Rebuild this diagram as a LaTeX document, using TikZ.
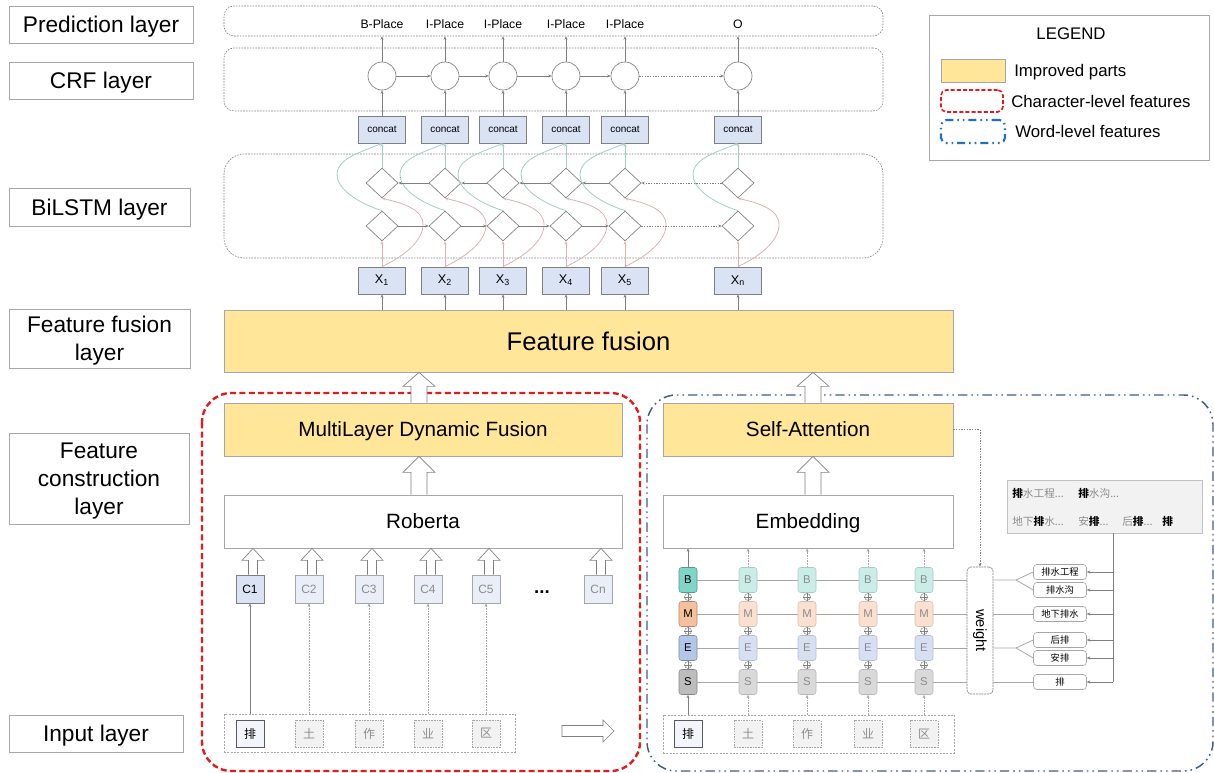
\documentclass[tikz,border=0pt]{standalone}
\usepackage{fontspec}
\setmainfont{Liberation Sans}
\newfontfamily\cjk{Noto Sans CJK SC}
\usetikzlibrary{shapes.geometric,arrows.meta,calc,backgrounds}

\definecolor{lgray}{HTML}{A6A6A6}
\definecolor{dgray}{HTML}{7F7F7F}
\definecolor{boxblue}{HTML}{DAE3F3}
\definecolor{boxblueL}{HTML}{E9EEF8}
\definecolor{yelf}{HTML}{FFE699}
\definecolor{tealL}{HTML}{A3CDC2}
\definecolor{pinkL}{HTML}{DDB0B2}
\definecolor{redc}{HTML}{E3191C}
\definecolor{navyc}{HTML}{3F5B95}
\definecolor{lbluec}{HTML}{1F70C1}
\definecolor{cB1}{HTML}{7FD6C8}
\definecolor{cB2}{HTML}{C9EEE8}
\definecolor{cM1}{HTML}{F4C19C}
\definecolor{cM2}{HTML}{FBE0CF}
\definecolor{cE1}{HTML}{B4C6E7}
\definecolor{cE2}{HTML}{D7E0F2}
\definecolor{cS1}{HTML}{BDBDBD}
\definecolor{cS2}{HTML}{D9D9D9}
\definecolor{gtext}{HTML}{8C8C8C}
\definecolor{gboxf}{HTML}{F2F2F2}

\newcommand\bx[7]{\node[#6, minimum width={(#4-#2)*0.75pt}, minimum height={(#5-#3)*0.75pt}, inner sep=0pt] (#1) at ({(#2+#4)/2},{(#3+#5)/2}) {#7};}
\newcommand\hup[6]{\filldraw[hol] let \p1=($(#1)+(#3,0)$), \p2=(#2) in (\x1-#4*0.75pt,\y1) -- (\x1-#4*0.75pt,\y2-#6*0.75pt) -- (\x1-#5*0.75pt,\y2-#6*0.75pt) -- (\x1,\y2) -- (\x1+#5*0.75pt,\y2-#6*0.75pt) -- (\x1+#4*0.75pt,\y2-#6*0.75pt) -- (\x1+#4*0.75pt,\y1);}
\newcommand\bpai{{\bfseries\color{black}排}}

\begin{document}
\begin{tikzpicture}[x=0.75pt,y=-0.75pt,
 lay/.style={draw=lgray,line width=0.6pt,font=\fontsize{17}{21}\selectfont,align=center,text depth=0pt},
 region/.style={draw=dgray,line width=0.45pt,dash pattern=on 1.2pt off 0.9pt,rounded corners=7.5pt},
 tag/.style={font=\fontsize{9.2}{11}\selectfont,inner sep=0pt,text depth=0pt},
 bluebox/.style={draw=dgray,fill=boxblue,line width=0.55pt,inner sep=0pt,minimum width=35.25pt,minimum height=20.25pt},
 crfc/.style={circle,draw=dgray,fill=white,line width=0.5pt,minimum size=21pt,inner sep=0pt},
 dia/.style={diamond,draw=dgray,fill=white,line width=0.5pt,minimum width=24pt,minimum height=22.5pt,inner sep=0pt},
 arr/.style={draw=dgray,line width=0.45pt,-{Stealth[length=2.6pt,width=2.2pt]}},
 arrg/.style={arr,draw=tealL,line width=0.6pt},
 arrp/.style={arr,draw=pinkL,line width=0.6pt},
 dotarr/.style={arr,dash pattern=on 1pt off 1pt},
 lightarr/.style={arr,draw=lgray,dash pattern=on 1.2pt off 0.8pt},
 yel/.style={draw=lgray,fill=yelf,line width=0.6pt},
 wbox/.style={draw=lgray,fill=white,line width=0.6pt},
 dashbox/.style={draw=lgray,dash pattern=on 1.5pt off 1pt,line width=0.5pt},
 hol/.style={draw=dgray,fill=white,line width=0.5pt},
 mid/.style={font=\fontsize{15.5}{18}\selectfont,text depth=0pt},
 cbox/.style={draw=dgray,fill=boxblue,line width=0.55pt,inner sep=0pt,minimum size=21pt,font=\fontsize{9}{11}\selectfont},
 cboxL/.style={cbox,draw=lgray,fill=boxblueL,text=gtext},
 chr/.style={draw=black!65,fill=boxblueL!60,line width=0.6pt,inner sep=0pt,minimum width=21pt,minimum height=20.25pt,font=\cjk\fontsize{9}{11}\selectfont},
 chrL/.style={chr,draw=lgray,dash pattern=on 1.2pt off 0.8pt,fill=gboxf,text=gtext},
 cell/.style={rounded corners=2pt,minimum width=13.5pt,minimum height=18.75pt,inner sep=0pt,font=\fontsize{8.5}{10}\selectfont,line width=0.4pt},
 cellB1/.style={cell,fill=cB1,draw=cB1!70!black},
 cellB2/.style={cell,fill=cB2,draw=cB2!85!black,text=gtext},
 cellM1/.style={cell,fill=cM1,draw=cM1!70!black},
 cellM2/.style={cell,fill=cM2,draw=cM2!85!black,text=gtext},
 cellE1/.style={cell,fill=cE1,draw=cE1!70!black},
 cellE2/.style={cell,fill=cE2,draw=cE2!85!black,text=gtext},
 cellS1/.style={cell,fill=cS1,draw=cS1!70!black},
 cellS2/.style={cell,fill=cS2,draw=cS2!85!black,text=gtext},
 oplus/.style={circle,draw=dgray,fill=white,line width=0.35pt,minimum size=5.2pt,inner sep=0pt},
 rowline/.style={draw=lgray,line width=0.6pt},
 kw/.style={draw=lgray,rounded corners=2.5pt,fill=white,line width=0.45pt,minimum width=39.75pt,minimum height=11.25pt,inner sep=0pt,font=\cjk\fontsize{7}{8}\selectfont},
 gt/.style={text=gtext,font=\cjk\fontsize{8}{10}\selectfont,inner sep=0pt},
 legt/.style={font=\fontsize{12.6}{15}\selectfont,inner sep=0pt,text depth=0pt}
]
\useasboundingbox (0,0) rectangle (1214,773);

% ---------- left layer labels
\bx{lpred}{9}{6}{193}{43}{lay}{Prediction layer}
\bx{lcrf}{9}{62}{193}{99}{lay}{CRF layer}
\bx{lbil}{9}{188}{190}{226}{lay}{BiLSTM layer}
\bx{lff}{9}{309}{190}{368}{lay}{Feature fusion\\layer}
\bx{lfc}{9}{433}{189}{524}{lay}{Feature\\construction\\layer}
\bx{lin}{9}{715}{183}{752}{lay}{Input layer}

% ---------- regions
\bx{pred}{224}{6}{883}{36}{region}{}
\bx{crf}{224}{48}{883}{111}{region}{}
\bx{bil}{224}{154}{883}{258}{region,rounded corners=15pt}{}

% ---------- feature fusion
\bx{ff}{224}{310}{953}{372}{yel,font=\fontsize{19.2}{23}\selectfont}{Feature fusion}

% ---------- columns
\foreach \i/\c/\t in {1/382/B-Place,2/445/I-Place,3/503/I-Place,4/566/I-Place,5/625/I-Place,n/738/O}{
  \node[tag] (p\i) at (\c,24) {\t};
  \node[crfc] (crf\i) at (\c,76) {};
  \node[bluebox,font=\fontsize{7.5}{9}\selectfont,text depth=0pt] (cc\i) at (\c,129.5) {concat};
  \node[dia] (up\i) at (\c,183) {};
  \node[dia] (lo\i) at (\c,226) {};
  \node[bluebox,font=\fontsize{9.5}{11}\selectfont] (x\i) at (\c,280.5) {X\textsubscript{\i}};
}
\foreach \i in {1,2,3,4,5,n}{
  \draw[arr] (crf\i.north) -- (crf\i.north |- pred.south);
  \draw[arr] (cc\i.north) -- (crf\i.south);
  \draw[arrg] (up\i.north) -- (cc\i.south);
  \draw[arrp] (x\i.north) -- (lo\i.south);
  \draw[arr] (x\i.south |- ff.north) -- (x\i.south);
  \draw[arrg] (lo\i.north) .. controls ($(lo\i.north)+(-25,-8)$) and ($(lo\i.north)+(-45,-22)$) .. ($(lo\i.north)+(-45,-36)$) .. controls ($(lo\i.north)+(-45,-52)$) and ($(cc\i.south)+(-22,9)$) .. (cc\i.south);
  \draw[arrp] (x\i.north) .. controls ($(x\i.north)+(25,-12)$) and ($(x\i.north)+(41,-27)$) .. ($(x\i.north)+(41,-42)$) .. controls ($(x\i.north)+(41,-57)$) and ($(up\i.south)+(22,5)$) .. (up\i.south);
}
\foreach \a/\b in {1/2,2/3,3/4,4/5}{
  \draw[arr] (crf\a) -- (crf\b);
  \draw[arr] (up\b) -- (up\a);
  \draw[arr] (lo\a) -- (lo\b);
}
\draw[dotarr] (crf5) -- (crfn);
\draw[dotarr] (upn) -- (up5);
\draw[dotarr] (lo5) -- (lon);

% ---------- character-level branch
\draw[draw=redc,line width=1.8pt,dash pattern=on 4.5pt off 2.5pt,rounded corners=22pt] (202,393) rectangle (640,771);
\bx{mdf}{224}{403}{622}{456}{yel,mid}{MultiLayer Dynamic Fusion}
\bx{rob}{224}{495}{622}{548}{wbox,mid}{Roberta}
\hup{mdf.north}{mdf.north |- ff.south}{-4}{8}{16}{14}
\hup{rob.north}{rob.north |- mdf.south}{-4}{8}{16}{16}

\node[cbox] (ch1) at (250,589) {C1};
\foreach \i/\c in {2/309,3/369,4/428,5/486}{\node[cboxL] (ch\i) at (\c,589) {C\i};}
\node[cboxL] (chn) at (598,589) {Cn};
\node[font=\bfseries\fontsize{14}{16}\selectfont,inner sep=0pt,anchor=base] (dots) at (542,593) {...};
\foreach \i in {1,2,3,4,5,n}{\hup{ch\i.north}{ch\i.north |- rob.south}{3}{4.5}{11}{12}}

\bx{inp}{224}{714}{515}{752}{dashbox}{}
\node[chr] (w1) at (250,733.5) {排};
\node[chrL] (w2) at (309,733.5) {土};
\node[chrL] (w3) at (369,733.5) {作};
\node[chrL] (w4) at (428,733.5) {业};
\node[chrL] (w5) at (486,733.5) {区};
\draw[arr] (w1.north |- inp.north) -- (ch1.south);
\foreach \i in {2,3,4,5}{\draw[lightarr] (w\i.north |- inp.north) -- (ch\i.south);}
\filldraw[hol] (562,725.5) -- (603,725.5) -- (603,720) -- (614,731) -- (603,742) -- (603,736.5) -- (562,736.5) -- cycle;

% ---------- word-level branch
\draw[draw=navyc,line width=1.1pt,dash pattern=on 7pt off 3pt on 1.2pt off 3pt on 1.2pt off 3pt,rounded corners=22pt] (647,395) rectangle (1213,771);
\bx{sa}{663}{403}{953}{456}{yel,mid}{Self-Attention}
\bx{emb}{663}{495}{953}{548}{wbox,mid}{Embedding}
\hup{sa.north}{sa.north |- ff.south}{5}{8}{16}{14}
\hup{emb.north}{emb.north |- sa.south}{5}{8}{16}{16}

\foreach \i/\c/\s in {1/688/1,2/748/2,3/807/2,4/868/2,5/924/2}{
  \node[cellB\s] (eB\i) at (\c,580) {B};
  \node[cellM\s] (eM\i) at (\c,614) {M};
  \node[cellE\s] (eE\i) at (\c,648) {E};
  \node[cellS\s] (eS\i) at (\c,682) {S};
  \node[oplus] (oa\i) at (\c,597) {};
  \node[oplus] (ob\i) at (\c,631) {};
  \node[oplus] (oc\i) at (\c,665) {};
  \foreach \o in {oa,ob,oc}{
    \draw[dgray,line width=0.35pt] (\o\i.north) -- (\o\i.south) (\o\i.west) -- (\o\i.east);
  }
}
\draw[arr] (eB1.north) -- (eB1.north |- emb.south);
\foreach \i in {2,3,4,5}{\draw[lightarr] (eB\i.north) -- (eB\i.north |- emb.south);}

\bx{inp2}{663}{715}{954}{753}{dashbox}{}
\node[chr] (v1) at (688,734) {排};
\node[chrL] (v2) at (748,734) {土};
\node[chrL] (v3) at (807,734) {作};
\node[chrL] (v4) at (868,734) {业};
\node[chrL] (v5) at (924,734) {区};
\draw[arr] (v1.north |- inp2.north) -- (eS1.south);
\foreach \i in {2,3,4,5}{\draw[lightarr] (v\i.north |- inp2.north) -- (eS\i.south);}

\bx{wt}{967}{567}{993}{694}{draw=dgray,dash pattern=on 1.5pt off 0.6pt,line width=0.5pt,rounded corners=3pt,fill=white}{}
\node[rotate=-90,font=\fontsize{11}{13}\selectfont,inner sep=0pt] (wtl) at (wt.center) {weight};
\draw[dotarr] (sa.east) -| (wt.north);

\begin{scope}[on background layer]
  \draw[rowline] (eB1.center) -- (eB1.center -| wt.west);
  \draw[rowline] (eM1.center) -- (eM1.center -| wt.west);
  \draw[rowline] (eE1.center) -- (eE1.center -| wt.west);
  \draw[rowline] (eS1.center) -- (eS1.center -| wt.west);
\end{scope}

\node[kw] (kw1) at (1060,572) {排水工程};
\node[kw] (kw2) at (1060,590) {排水沟};
\node[kw] (kw3) at (1060,614) {地下排水};
\node[kw] (kw4) at (1060,640) {后排};
\node[kw] (kw5) at (1060,658) {安排};
\node[kw] (kw6) at (1060,682) {排};
\coordinate (fk1) at (1016,580);
\coordinate (fk2) at (1016,648);
\draw[rowline] (eB1.center -| wt.east) -- (fk1) -- (kw1.west);
\draw[rowline] (fk1) -- (kw2.west);
\draw[rowline] (eM1.center -| wt.east) -- (kw3.west);
\draw[rowline] (eE1.center -| wt.east) -- (fk2) -- (kw4.west);
\draw[rowline] (fk2) -- (kw5.west);
\draw[rowline] (eS1.center -| wt.east) -- (kw6.west);

\bx{gbox}{1007}{480}{1202}{533}{draw=lgray!70,fill=gboxf,line width=0.6pt}{}
\node[gt,anchor=west] (g1) at (1012,493) {\bpai 水工程...};
\node[gt,anchor=west] (g2) at (1078,493) {\bpai 水沟...};
\node[gt,anchor=west] (g3) at (1012,521) {地下\bpai 水...};
\node[gt,anchor=west] (g4) at (1078,521) {安\bpai ...};
\node[gt,anchor=west] (g5) at (1122,521) {后\bpai ...};
\node[gt,anchor=west] (g6) at (1162,521) {\bpai};
\coordinate (vt) at (1113,533);
\coordinate (vb) at (1113,682);
\draw[draw=dgray,line width=0.5pt] (vt) -- (vb);
\foreach \k in {1,2,3,4,5,6}{\draw[arr] (kw\k.east -| vt) -- (kw\k.east);}

% ---------- legend
\bx{leg}{929}{15}{1209}{160}{draw=lgray,line width=0.6pt}{}
\node[legt] (legT) at (1071,34) {LEGEND};
\bx{legy}{941}{59}{1005}{82}{draw=lgray,fill=yelf,line width=0.5pt}{}
\node[legt,anchor=west] (legyt) at (1014,70.5) {Improved parts};
\bx{legr}{941}{90}{1003}{112}{draw=redc,line width=1.2pt,dash pattern=on 3pt off 1.6pt,rounded corners=4pt}{}
\node[legt,anchor=west] (legrt) at (1011,101) {Character-level features};
\bx{legb}{941}{120}{1005}{143}{draw=lbluec,line width=1.6pt,dash pattern=on 6pt off 3pt on 1.2pt off 3pt on 1.2pt off 3pt,rounded corners=4pt}{}
\node[legt,anchor=west] (legbt) at (1015,131.5) {Word-level features};
\end{tikzpicture}
\end{document}
